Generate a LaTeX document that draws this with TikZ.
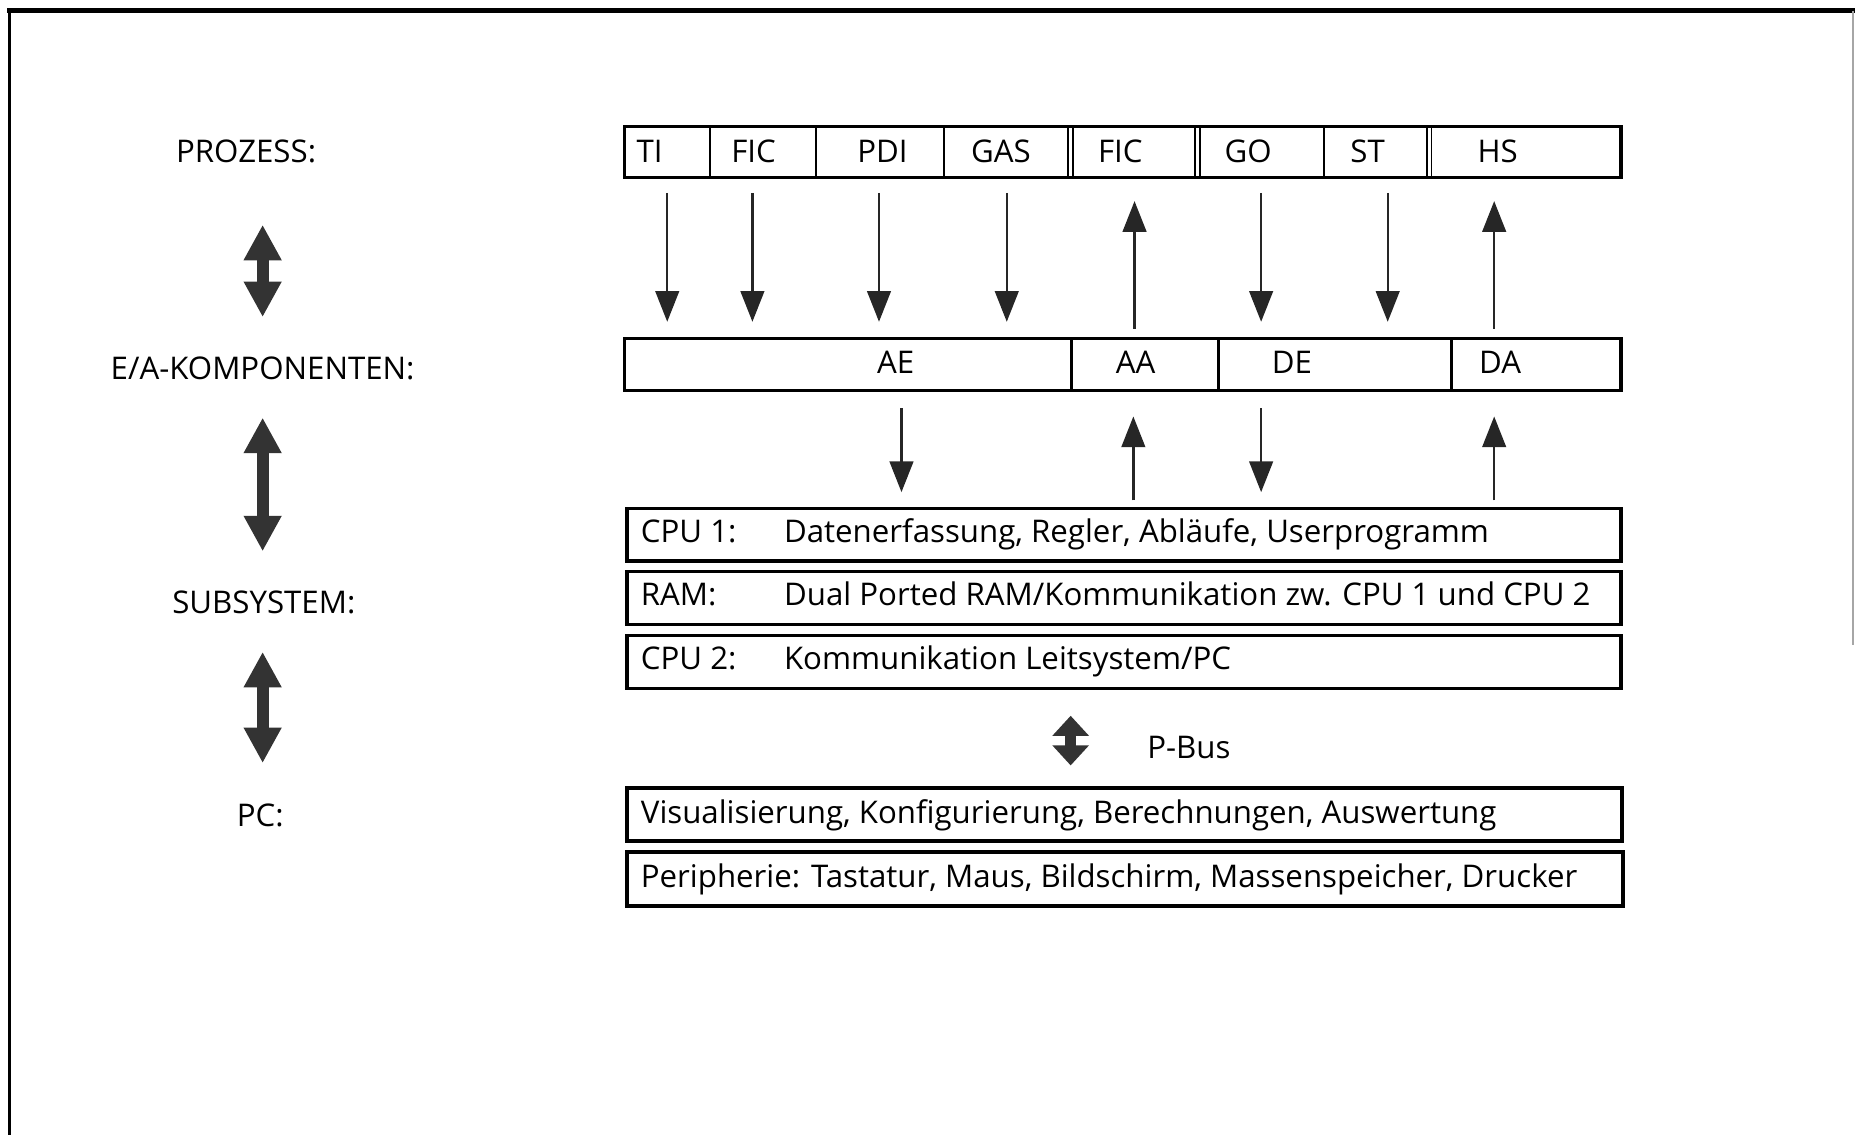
\documentclass[tikz,border=0pt]{standalone}
\usepackage{fontspec}
\setmainfont{Open Sans}
\usetikzlibrary{arrows.meta}

\tikzset{every picture/.style={line width=0.75pt}}
\tikzset{
  kasten/.style={draw, line width=1.5pt, minimum width=420pt, minimum height=22pt, inner sep=0pt},
  txt/.style={inner sep=0pt, anchor=base, font=\fontsize{13.2}{16}\selectfont},
  sig/.style={line width=1pt, black!85, -{Triangle[length=13pt,width=10pt]}},
  fat/.style={line width=5pt, black!80, {Triangle[length=15pt,width=15pt]}-{Triangle[length=15pt,width=15pt]}},
  bus/.style={line width=4.5pt, black!80, {Triangle[length=8.5pt,width=15pt]}-{Triangle[length=8.5pt,width=15pt]}},
  trenn/.style={line width=0.8pt}
}

\begin{document}
\begin{tikzpicture}[x=0.5pt,y=0.5pt,yscale=-1,xscale=1]
        \useasboundingbox (0,0) rectangle (1568,959);

        % Frame
        \draw [line width=2pt] (6,9) -- (1568,9) ;
        \draw [line width=1pt] (8,9) -- (8,959) ;
        \draw [line width=0.8pt, black!35] (1566,9) -- (1566,545) ;

        % Left column
        \node [txt] (l-prozess) at (208,137.5) {PROZESS:};
        \node [txt] (l-eak) at (222,320.5) {E/A-KOMPONENTEN:};
        \node [txt] (l-sub) at (223,518.5) {SUBSYSTEM:};
        \node [txt] (l-pc) at (220,698.5) {PC:};

        \coordinate (f1o) at (222,190);
        \coordinate (f1u) at (222,268);
        \coordinate (f2o) at (222,353);
        \coordinate (f2u) at (222,466);
        \coordinate (f3o) at (222,551);
        \coordinate (f3u) at (222,645);
        \draw [fat] (f1o) -- (f1u) ;
        \draw [fat] (f2o) -- (f2u) ;
        \draw [fat] (f3o) -- (f3u) ;

        % Prozess
        \node [kasten, minimum width=421pt, minimum height=21.5pt] (prozess) at (949,128.5) {};
        \draw [trenn] (600,107) -- (600,150) ;
        \draw [trenn] (690,107) -- (690,150) ;
        \draw [trenn] (798,107) -- (798,150) ;
        \draw [trenn] (903,107) -- (903,150) ;
        \draw [trenn] (907,107) -- (907,150) ;
        \draw [trenn] (1010,107) -- (1010,150) ;
        \draw [trenn] (1014,107) -- (1014,150) ;
        \draw [trenn] (1119,107) -- (1119,150) ;
        \draw [trenn] (1206,107) -- (1206,150) ;
        \draw [trenn] (1210,107) -- (1210,150) ;

        \node [txt] (p-ti) at (549,137.5) {TI};
        \node [txt] (p-fic) at (637,137.5) {FIC};
        \node [txt] (p-pdi) at (746,137.5) {PDI};
        \node [txt] (p-gas) at (846,137.5) {GAS};
        \node [txt] (p-fic2) at (947,137.5) {FIC};
        \node [txt] (p-go) at (1055,137.5) {GO};
        \node [txt] (p-st) at (1156,137.5) {ST};
        \node [txt] (p-hs) at (1266,137.5) {HS};

        % Signals Prozess <-> E/A
        \coordinate (t1) at (564,163);   \coordinate (b1) at (564,272);
        \coordinate (t2) at (636,163);   \coordinate (b2) at (636,272);
        \coordinate (t3) at (743,163);   \coordinate (b3) at (743,272);
        \coordinate (t4) at (851,163);   \coordinate (b4) at (851,272);
        \coordinate (t5) at (959,170);   \coordinate (b5) at (959,278);
        \coordinate (t6) at (1066,163);  \coordinate (b6) at (1066,272);
        \coordinate (t7) at (1173,163);  \coordinate (b7) at (1173,272);
        \coordinate (t8) at (1263,170);  \coordinate (b8) at (1263,278);
        \draw [sig] (t1) -- (b1) ;
        \draw [sig] (t2) -- (b2) ;
        \draw [sig] (t3) -- (b3) ;
        \draw [sig] (t4) -- (b4) ;
        \draw [sig] (b5) -- (t5) ;
        \draw [sig] (t6) -- (b6) ;
        \draw [sig] (t7) -- (b7) ;
        \draw [sig] (b8) -- (t8) ;

        % E/A-Komponenten
        \node [kasten, minimum width=421pt] (eak) at (949,308) {};
        \draw [line width=1.3pt] (906,286) -- (906,330) ;
        \draw [line width=1.3pt] (1030,286) -- (1030,330) ;
        \draw [line width=1.3pt] (1227,286) -- (1227,330) ;
        \node [txt] (e-ae) at (757,315.5) {AE};
        \node [txt] (e-aa) at (960,315.5) {AA};
        \node [txt] (e-de) at (1092,315.5) {DE};
        \node [txt] (e-da) at (1268,315.5) {DA};

        % Signals E/A <-> Subsystem
        \coordinate (u1) at (762,345);   \coordinate (v1) at (762,416);
        \coordinate (u2) at (958,352);   \coordinate (v2) at (958,423);
        \coordinate (u3) at (1066,345);  \coordinate (v3) at (1066,416);
        \coordinate (u4) at (1263,352);  \coordinate (v4) at (1263,423);
        \draw [sig] (u1) -- (v1) ;
        \draw [sig] (v2) -- (u2) ;
        \draw [sig] (u3) -- (v3) ;
        \draw [sig] (v4) -- (u4) ;

        % Subsystem
        \node [kasten] (cpu1) at (950,452) {};
        \node [kasten, minimum height=22.5pt] (ram) at (950,505.5) {};
        \node [kasten, minimum height=22.5pt] (cpu2) at (950,559.5) {};
        \node [txt, anchor=base west] (cpu1-a) at (541,458.5) {CPU 1:};
        \node [txt, anchor=base west] (cpu1-b) at (662,458.5) {Datenerfassung, Regler, Abläufe, Userprogramm};
        \node [txt, anchor=base west] (ram-a) at (541,511.5) {RAM:};
        \node [txt, anchor=base west] (ram-b) at (662,511.5) {Dual Ported RAM/Kommunikation zw. CPU 1 und CPU 2};
        \node [txt, anchor=base west] (cpu2-a) at (541,565.5) {CPU 2:};
        \node [txt, anchor=base west] (cpu2-b) at (662,565.5) {Kommunikation Leitsystem/PC};

        % P-Bus
        \coordinate (bo) at (905,605);
        \coordinate (bu) at (905,647);
        \draw [bus] (bo) -- (bu) ;
        \node [txt] (pbus) at (1005,641.5) {P-Bus};

        % PC
        \node [kasten, minimum width=420.5pt, minimum height=22.5pt] (pc1) at (950.5,688.5) {};
        \node [kasten, minimum width=421pt, minimum height=23pt] (pc2) at (951,743) {};
        \node [txt, anchor=base west] (pc1-t) at (541,696.5) {Visualisierung, Konfigurierung, Berechnungen, Auswertung};
        \node [txt, anchor=base west] (pc2-t) at (541,750.5) {Peripherie: Tastatur, Maus, Bildschirm, Massenspeicher, Drucker};

\end{tikzpicture}
\end{document}
